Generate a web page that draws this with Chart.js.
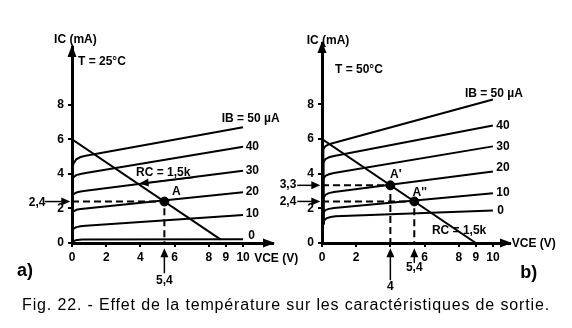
<!DOCTYPE html>
<html><head><meta charset="utf-8">
<script src="https://cdn.jsdelivr.net/npm/chart.js@4.4.1/dist/chart.umd.min.js"></script>
<style>
html,body{margin:0;padding:0;background:#fff;}
#wrap{position:relative;width:572px;height:328px;overflow:hidden;}
canvas{position:absolute;top:0;}
#ca{left:0;} #cb{left:278px;}
#cap{position:absolute;left:0;width:572px;top:296px;text-align:center;font:16px/18px "Liberation Sans",Arial,sans-serif;letter-spacing:0.85px;color:#000;white-space:nowrap;}
</style></head>
<body><div id="wrap">
<canvas id="ca" width="300" height="300"></canvas>
<canvas id="cb" width="294" height="300"></canvas>
<div id="cap">Fig. 22. - Effet de la température sur les caractéristiques de sortie.</div>
</div>
<script>
// ---- data: panel a) T = 25°C  (IB = 0,10,20,30,40,50 µA) ----
const ibLabels = ["0","10","20","30","40","50"];
const curvesA = [
  [[0,0.02],[0.1,0.12],[0.3,0.18],[0.6,0.2],[10,0.22]],
  [[0,0.72],[0.1,0.83],[0.25,0.92],[0.5,0.97],[0.8,1.0],[10,1.62]],
  [[0,1.72],[0.1,1.83],[0.25,1.92],[0.5,1.97],[0.8,2.0],[10,2.94]],
  [[0,2.72],[0.1,2.83],[0.25,2.92],[0.5,2.98],[0.8,3.02],[10,4.19]],
  [[0,3.7],[0.1,3.82],[0.25,3.93],[0.5,4.0],[0.8,4.05],[10,5.58]],
  [[0,4.35],[0.1,4.62],[0.25,4.85],[0.5,4.98],[0.8,5.05],[10,6.7]]
];
const loadLineA = [[0,6],[8.7,0.2]];
const pointA = [[5.4,2.4]];
const dashA = [[0,2.4],[5.4,2.4],[5.4,0]];
// ---- data: panel b) T = 50°C ----
const curvesB = [
  [[0.07,1.1],[0.12,1.3],[0.25,1.42],[0.5,1.5],[0.8,1.54],[10,1.87]],
  [[0.07,1.1],[0.08,1.75],[0.2,1.9],[0.4,1.97],[0.7,2.02],[10,2.88]],
  [[0.07,1.1],[0.08,2.6],[0.2,2.78],[0.4,2.88],[0.7,2.94],[10,4.13]],
  [[0.07,1.1],[0.08,3.7],[0.2,3.88],[0.4,3.97],[0.7,4.04],[10,5.58]],
  [[0.07,1.1],[0.08,4.65],[0.2,4.85],[0.4,4.95],[0.7,5.02],[10,6.78]],
  [[0.07,1.1],[0.08,5.4],[0.2,5.6],[0.4,5.7],[10,8.29]]
];
const loadLineB = [[0,6],[9,0]];
const pointsB = [[4,3.33],[5.4,2.4]];
const dashB1 = [[0,3.33],[4,3.33],[4,0]];
const dashB2 = [[0,2.4],[5.4,2.4],[5.4,0]];
// ---- tick labels ----
const xTicks = [0,2,4,6,8,9,10];
const yTicks = [0,2,4,6,8];

const B = "bold 12px 'Liberation Sans', Arial, sans-serif";
const BIG = "bold 18px 'Liberation Sans', Arial, sans-serif";
const toXY = a => a.map(p => ({x:p[0], y:p[1]}));

function lineDs(pts, opts){
  return Object.assign({data:toXY(pts), showLine:true, borderColor:'#000', borderWidth:2,
    pointRadius:0, fill:false, tension:0, borderJoinStyle:'round'}, opts||{});
}

const extras = {
  id:'extras',
  afterDatasetsDraw(chart, args, o){
    const c = chart.ctx, xs = chart.scales.x, ys = chart.scales.y;
    const px = v => xs.getPixelForValue(v), py = v => ys.getPixelForValue(v);
    c.save();
    c.fillStyle = '#000'; c.strokeStyle = '#000';
    function head(x1,y1,x2,y2,len,w){
      const a = Math.atan2(y2-y1,x2-x1);
      c.beginPath();
      c.moveTo(x2,y2);
      c.lineTo(x2-len*Math.cos(a)+w*Math.sin(a), y2-len*Math.sin(a)-w*Math.cos(a));
      c.lineTo(x2-len*Math.cos(a)-w*Math.sin(a), y2-len*Math.sin(a)+w*Math.cos(a));
      c.closePath(); c.fill();
    }
    const ca = chart.chartArea;
    head(ca.left, ca.top+10, ca.left, ca.top-2, 12, 4.5);
    head(ca.right-10, ca.bottom, ca.right+2, ca.bottom, 12, 4.5);
    (o.arrows||[]).forEach(a => {
      const x1=px(a.from[0]), y1=py(a.from[1]), x2=px(a.to[0]), y2=py(a.to[1]);
      c.lineWidth = a.w||1.5;
      const ang = Math.atan2(y2-y1,x2-x1);
      c.beginPath(); c.moveTo(x1,y1); c.lineTo(x2-6*Math.cos(ang), y2-6*Math.sin(ang)); c.stroke();
      head(x1,y1,x2,y2,a.len||9,a.hw||4);
    });
    (o.texts||[]).forEach(t => {
      c.font = t.font||B;
      c.textAlign = t.align||'left';
      c.textBaseline = 'middle';
      c.fillText(t.t, px(t.x), py(t.y));
    });
    c.restore();
  }
};

function makeChart(id, cfg){
  new Chart(document.getElementById(id), {
    type:'scatter',
    data:{datasets:cfg.datasets},
    options:{
      responsive:false, animation:false, devicePixelRatio:1,
      layout:{padding:{top:cfg.top, right:cfg.right, left:0, bottom:0}},
      plugins:{legend:{display:false}, tooltip:{enabled:false}, extras:cfg.extras},
      scales:{
        x:{type:'linear', min:0, max:cfg.xmax,
          afterBuildTicks:s=>{s.ticks = xTicks.map(v=>({value:v}));},
          afterFit:s=>{s.height = cfg.h - cfg.bottomPx;},
          ticks:{autoSkip:false, maxRotation:0, color:'#000', font:{family:"'Liberation Sans', Arial", size:12, weight:'bold'}, padding:3,
            callback:v=> (cfg.hideX||[]).includes(v) ? '' : String(v)},
          grid:{display:true, drawOnChartArea:false, drawTicks:true, tickLength:4, color:'#000', lineWidth:2},
          border:{display:true, color:'#000', width:3}},
        y:{type:'linear', min:0, max:cfg.ymax,
          afterBuildTicks:s=>{s.ticks = yTicks.map(v=>({value:v}));},
          afterFit:s=>{s.width = cfg.left;},
          ticks:{autoSkip:false, color:'#000', font:{family:"'Liberation Sans', Arial", size:12, weight:'bold'}, padding:4},
          grid:{display:true, drawOnChartArea:false, drawTicks:true, tickLength:4, color:'#000', lineWidth:2},
          border:{display:true, color:'#000', width:3}}
      }
    },
    plugins:[extras]
  });
}

// panel a
const dsA = curvesA.map(c => lineDs(c));
dsA.push(lineDs(loadLineA));
dsA.push(lineDs(dashA, {borderDash:[7,4], borderJoinStyle:'miter'}));
dsA.push({data:toXY(pointA), pointRadius:4.5, pointBackgroundColor:'#000', pointBorderColor:'#000', showLine:false});
makeChart('ca', {datasets:dsA, top:47, right:27, left:72, h:300, bottomPx:243, xmax:11.75, ymax:11.35,
  extras:{
    arrows:[
      {from:[-1.6,2.4], to:[-0.1,2.4]},
      {from:[5.4,-1.75], to:[5.4,-0.3]},
      {from:[7.1,3.78], to:[3.95,3.45], w:1}
    ],
    texts:[
      {t:"IC (mA)", x:0.2, y:11.8, align:'center'},
      {t:"T = 25°C", x:0.35, y:10.5},
      {t:"IB = 50 µA", x:8.75, y:7.2},
      {t:"40", x:10.15, y:5.6},
      {t:"30", x:10.15, y:4.2},
      {t:"20", x:10.15, y:3.0},
      {t:"10", x:10.15, y:1.7},
      {t:"0", x:10.3, y:0.45},
      {t:"RC = 1,5k", x:3.74, y:4.1},
      {t:"A", x:5.85, y:2.95},
      {t:"2,4", x:-1.55, y:2.35, align:'right'},
      {t:"5,4", x:5.4, y:-2.2, align:'center'},
      {t:"VCE (V)", x:10.65, y:-0.88},
      {t:"a)", x:-2.75, y:-1.6, align:'center', font:BIG}
    ]
  }
});

// panel b
const dsB = curvesB.map(c => lineDs(c));
dsB.push(lineDs(loadLineB));
dsB.push(lineDs(dashB1, {borderDash:[7,4], borderJoinStyle:'miter'}));
dsB.push(lineDs(dashB2, {borderDash:[7,4], borderJoinStyle:'miter'}));
dsB.push({data:toXY(pointsB), pointRadius:4.5, pointBackgroundColor:'#000', pointBorderColor:'#000', showLine:false});
makeChart('cb', {datasets:dsB, top:43, right:62, left:44, h:300, bottomPx:243, xmax:11.0, ymax:11.55, hideX:[4],
  extras:{
    arrows:[
      {from:[-1.45,3.33], to:[-0.1,3.33]},
      {from:[-1.45,2.4], to:[-0.1,2.4]},
      {from:[4,-2.15], to:[4,-0.3]},
      {from:[5.4,-1.15], to:[5.4,-0.3]}
    ],
    texts:[
      {t:"IC (mA)", x:0.35, y:11.7, align:'center'},
      {t:"T = 50°C", x:0.76, y:10.0},
      {t:"IB = 50 µA", x:8.36, y:8.6},
      {t:"40", x:10.2, y:6.8},
      {t:"30", x:10.2, y:5.58},
      {t:"20", x:10.2, y:4.35},
      {t:"10", x:10.2, y:2.9},
      {t:"0", x:10.25, y:1.87},
      {t:"RC = 1,5k", x:6.43, y:0.7},
      {t:"A'", x:3.98, y:3.93},
      {t:"A''", x:5.3, y:2.92},
      {t:"3,3", x:-1.5, y:3.38, align:'right'},
      {t:"2,4", x:-1.5, y:2.4, align:'right'},
      {t:"4", x:4, y:-2.5, align:'center'},
      {t:"5,4", x:5.4, y:-1.45, align:'center'},
      {t:"VCE (V)", x:11.1, y:-0.05},
      {t:"b)", x:12.1, y:-1.75, align:'center', font:BIG}
    ]
  }
});
</script>
</body></html>
